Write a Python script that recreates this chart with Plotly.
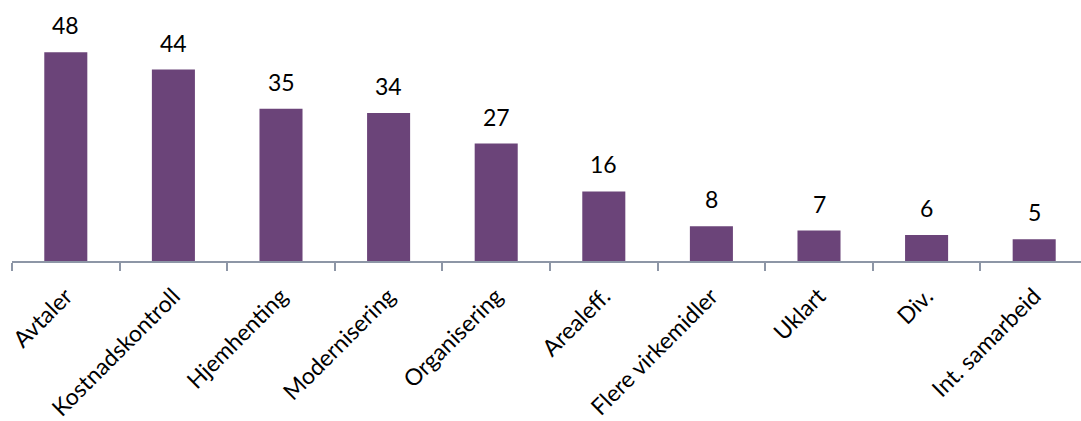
import plotly.graph_objects as go

categories = ["Avtaler", "Kostnadskontroll", "Hjemhenting", "Modernisering", "Organisering",
              "Arealeff.", "Flere virkemidler", "Uklart", "Div.", "Int. samarbeid"]
values = [48, 44, 35, 34, 27, 16, 8, 7, 6, 5]

bar_color = "#6B4479"
axis_color = "#8D96A6"
font_family = "Lato, Open Sans, sans-serif"

fig = go.Figure()
fig.add_trace(go.Bar(x=categories, y=values, marker=dict(color=bar_color, line=dict(width=0)),
                     hoverinfo="x+y"))

for c, v in zip(categories, values):
    fig.add_annotation(x=c, y=v, text=str(v), showarrow=False, yanchor="bottom",
                       yshift=11, font=dict(size=23, color="#000000", family=font_family))

fig.update_layout(
    width=1081, height=421,
    margin=dict(l=12, r=0, t=0, b=160),
    plot_bgcolor="white", paper_bgcolor="white",
    bargap=0.6,
    showlegend=False,
    font=dict(family=font_family, size=23, color="#000000"),
)
fig.update_xaxes(
    type="category", tickangle=-45, tickson="boundaries",
    range=[-0.5, 9.435], automargin=False,
    ticks="outside", ticklen=8, tickcolor=axis_color, tickwidth=1.5,
    ticklabelstandoff=11,
    showline=True, linecolor=axis_color, linewidth=1.5,
    showgrid=False, tickfont=dict(size=23, color="#000000", family=font_family),
)
fig.update_yaxes(range=[0, 60], visible=False, showgrid=False, zeroline=False)

fig.write_html("out.html", config={"displayModeBar": False},
               post_script="document.body.style.margin='0';document.body.style.overflow='hidden';")
